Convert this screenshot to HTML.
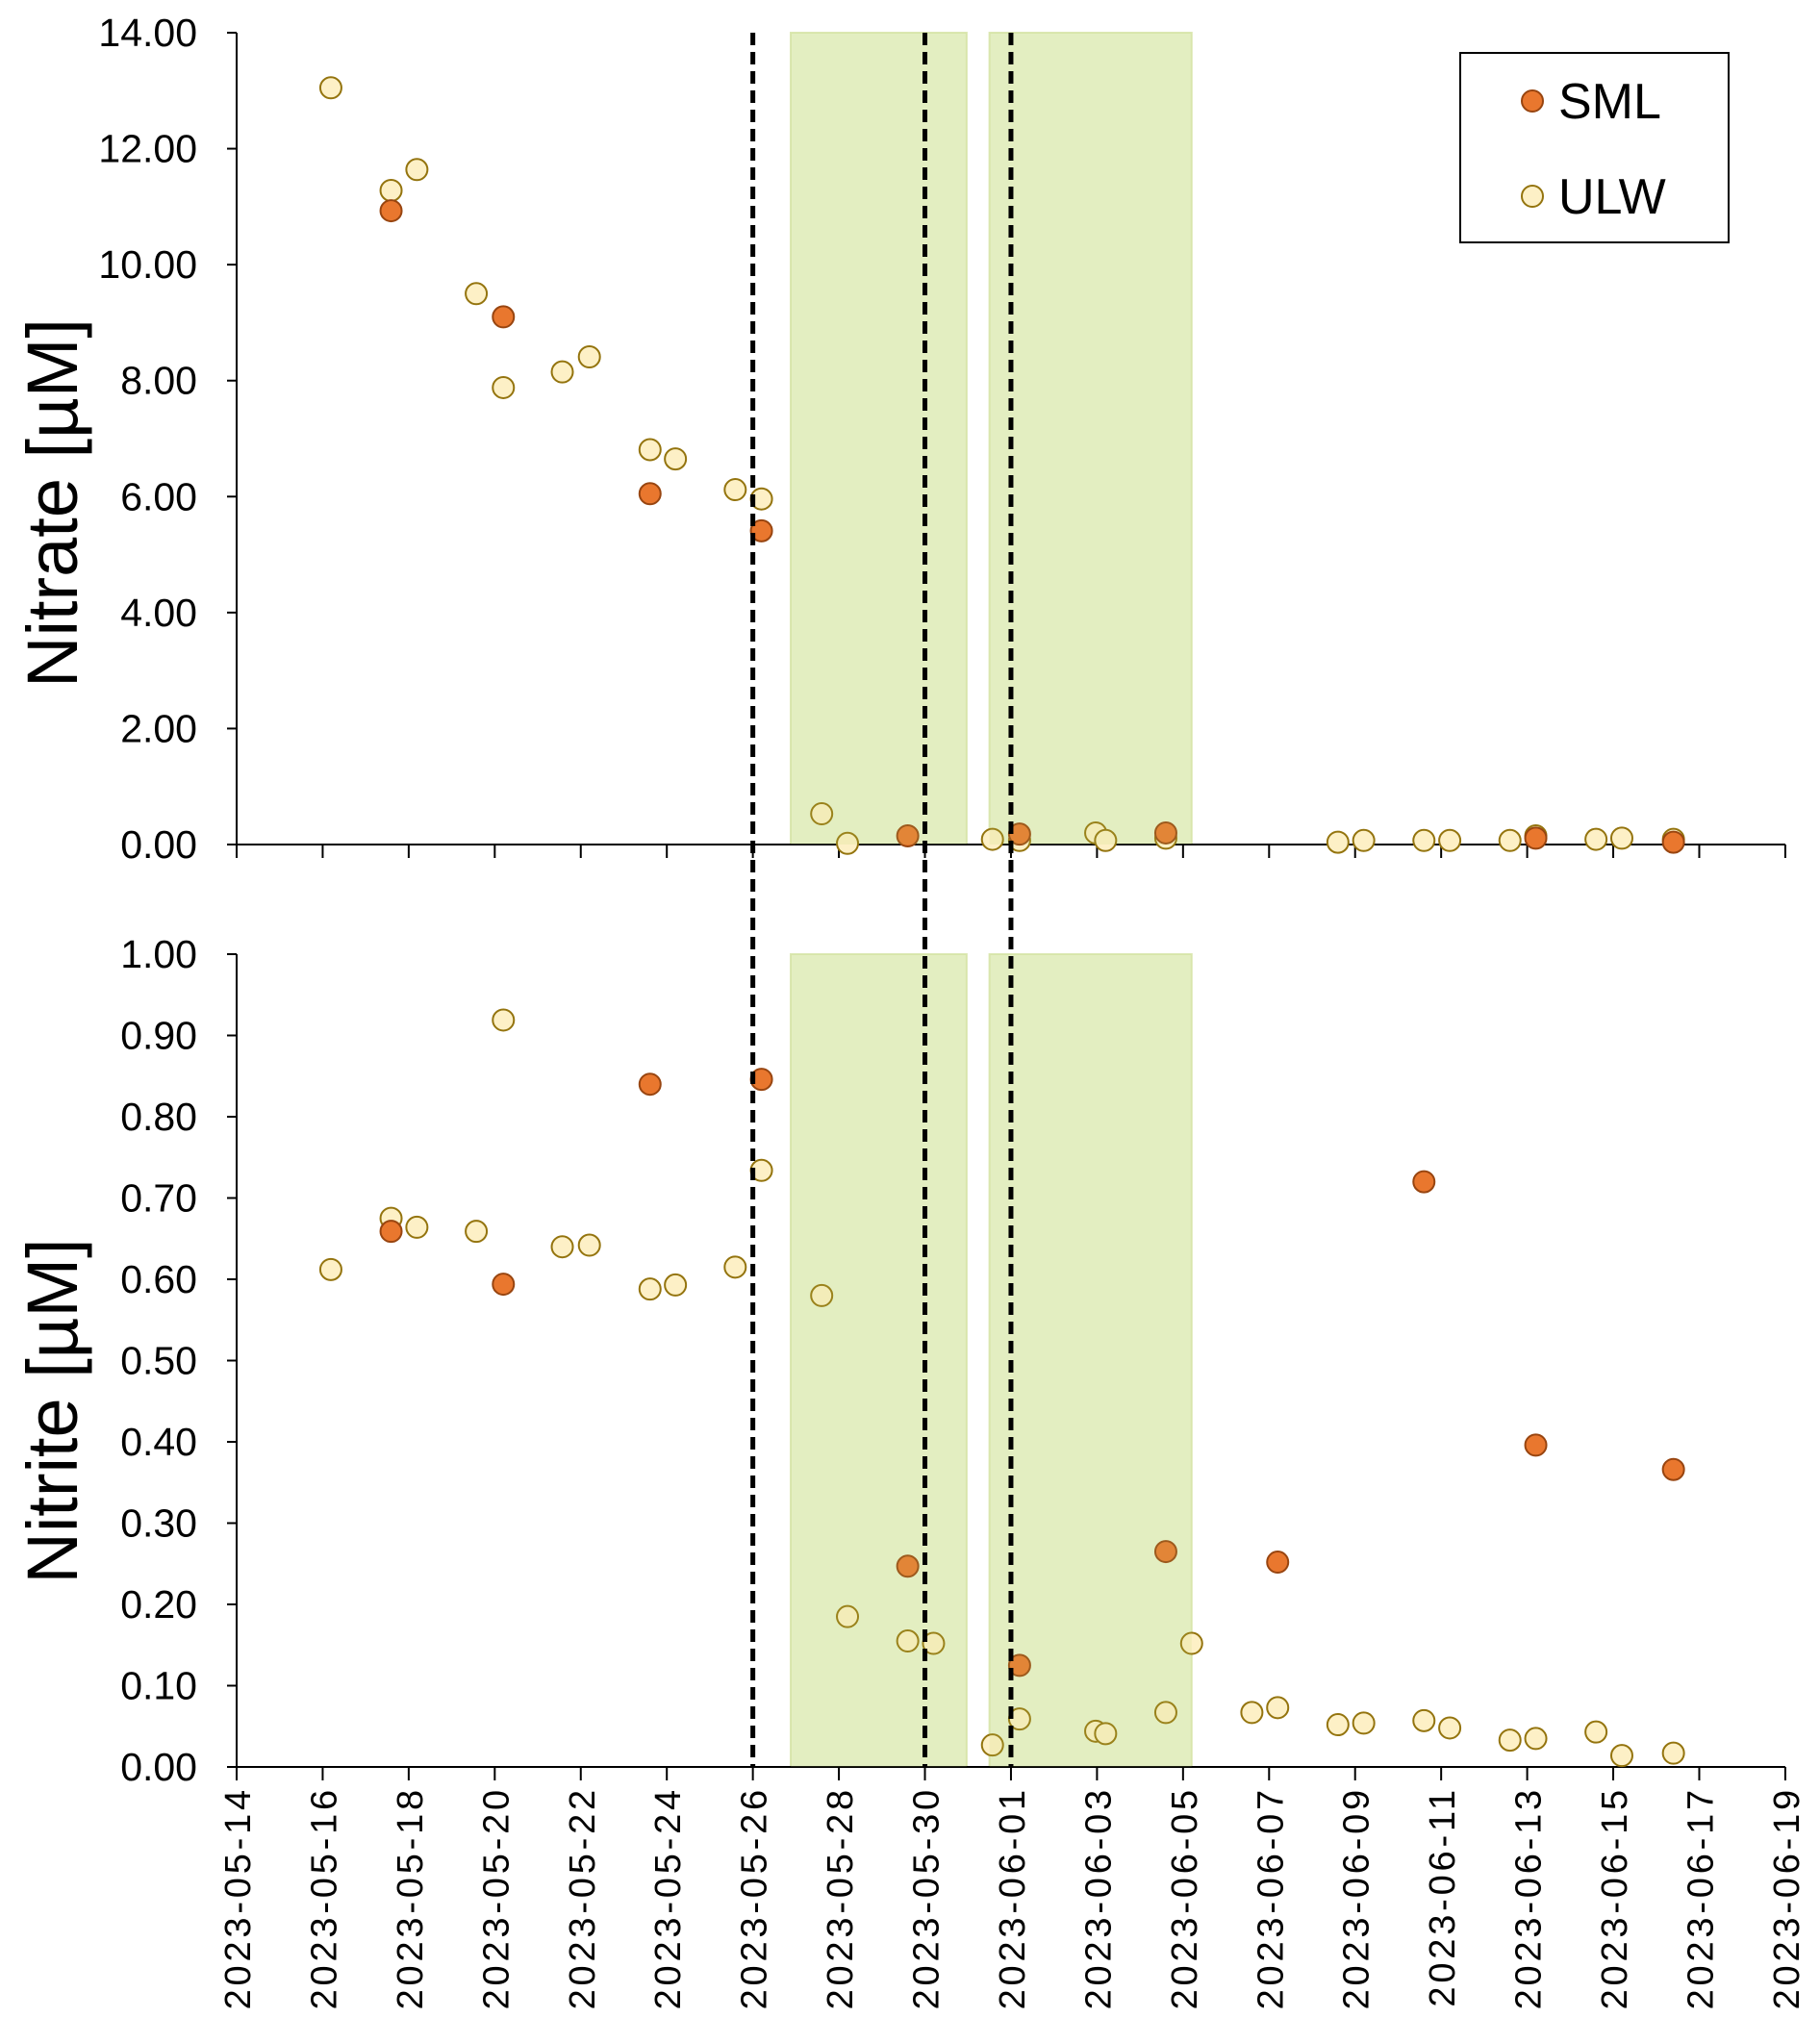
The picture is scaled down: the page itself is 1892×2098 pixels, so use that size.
<!DOCTYPE html>
<html><head><meta charset="utf-8"><style>
html,body{margin:0;padding:0;background:#fff}
svg{display:block;font-family:"Liberation Sans",Arial,sans-serif}
</style></head><body>
<svg id="chart" width="1892" height="2098" viewBox="0 0 1892 2098" xmlns="http://www.w3.org/2000/svg"></svg>
<script>
// x values: days since 2023-05-14
const nitrateUlwDays=[2.19,3.59,4.19,5.57,6.2,7.57,8.2,9.61,10.2,11.59,12.2,13.6,14.2,17.57,18.2,19.97,20.2,21.6,25.6,26.2,27.6,28.2,29.6,30.2,31.6,32.2,33.4];
const nitrateUlwVals=[13.05,11.28,11.64,9.50,7.88,8.15,8.41,6.81,6.65,6.12,5.96,0.53,0.02,0.09,0.07,0.20,0.07,0.11,0.04,0.07,0.07,0.07,0.07,0.15,0.09,0.11,0.09];
const nitrateSmlDays=[3.59,6.2,9.61,12.2,15.6,18.2,21.6,30.2,33.4];
const nitrateSmlVals=[10.93,9.10,6.05,5.41,0.15,0.18,0.20,0.11,0.04];
const nitriteUlwDays=[2.19,3.59,4.19,5.57,6.2,7.57,8.2,9.61,10.2,11.59,12.2,13.6,14.2,15.6,16.2,17.57,18.2,19.97,20.2,21.6,22.2,23.6,24.2,25.6,26.2,27.6,28.2,29.6,30.2,31.6,32.2,33.4];
const nitriteUlwVals=[0.612,0.675,0.664,0.659,0.919,0.640,0.642,0.588,0.593,0.615,0.734,0.580,0.185,0.155,0.152,0.027,0.059,0.044,0.041,0.067,0.152,0.067,0.073,0.052,0.054,0.057,0.048,0.033,0.035,0.043,0.014,0.017];
const nitriteSmlDays=[3.59,6.2,9.61,12.2,15.6,18.2,21.6,24.2,27.6,30.2,33.4];
const nitriteSmlVals=[0.659,0.594,0.840,0.846,0.247,0.125,0.265,0.252,0.720,0.396,0.366];
const nitrateTicks=[0,2,4,6,8,10,12,14];
const nitriteTicks=[0,0.1,0.2,0.3,0.4,0.5,0.6,0.7,0.8,0.9,1.0];
const dateTicks=["2023-05-14","2023-05-16","2023-05-18","2023-05-20","2023-05-22","2023-05-24","2023-05-26","2023-05-28","2023-05-30","2023-06-01","2023-06-03","2023-06-05","2023-06-07","2023-06-09","2023-06-11","2023-06-13","2023-06-15","2023-06-17","2023-06-19"];
const eventDays=[12,16,18];
const shadeRanges=[[12.88,16.97],[17.5,22.2]];

const NS="http://www.w3.org/2000/svg";
const svg=document.getElementById('chart');
function el(tag,attrs,parent){const e=document.createElementNS(NS,tag);for(const k in attrs)e.setAttribute(k,attrs[k]);(parent||svg).appendChild(e);return e;}
const X0=246,DAY=44.72;
const xs=d=>X0+d*DAY;
const XEND=xs(36);
const topY=v=>878-v*(878-34)/14;
const botY=v=>1837-v*(1837-992)/1;

shadeRanges.forEach(r=>{
  [[34,878],[992,1837]].forEach(p=>{
    const s=el('rect',{x:xs(r[0]),y:p[0],width:xs(r[1])-xs(r[0]),height:p[1]-p[0],fill:'rgb(234,242,208)',stroke:'rgb(220,232,180)','stroke-width':2});
    
    
  });
});

function axes(yf,ticks,fmt,bottom,name){
  const g=el('g',{});
  
  
  const top=yf(ticks[ticks.length-1]),base=yf(0);
  el('line',{x1:X0,y1:top,x2:X0,y2:base,stroke:'#000','stroke-width':2},g);
  el('line',{x1:X0,y1:base,x2:XEND,y2:base,stroke:'#000','stroke-width':2},g);
  ticks.forEach(t=>{
    const y=yf(t);
    el('line',{x1:X0-10,y1:y,x2:X0,y2:y,stroke:'#000','stroke-width':2},g);
    const tx=el('text',{x:205,y:y+14,'text-anchor':'end','font-size':41,fill:'#000'},g);
    tx.textContent=fmt(t);
    
    
  });
  dateTicks.forEach((d,i)=>{
    const x=xs(i*2);
    el('line',{x1:x,y1:base,x2:x,y2:base+14,stroke:'#000','stroke-width':2},g);
    if(bottom){
      const tx=el('text',{x:0,y:0,'text-anchor':'end','font-size':38,'letter-spacing':3.8,fill:'#000',transform:`translate(${x+14},${base+20}) rotate(-90)`},g);
      tx.textContent=d;
      
      
    }
  });
}
axes(topY,nitrateTicks,t=>t.toFixed(2),false,'nitrate-axes');
axes(botY,nitriteTicks,t=>t.toFixed(2),true,'nitrite-axes');

function dots(days,vals,yf,fill,stroke,name){
  days.forEach((d,i)=>{
    const c=el('circle',{cx:xs(d),cy:yf(vals[i]),r:11,fill:fill,stroke:stroke,'stroke-width':2});
    
    
  });
}
dots(nitrateUlwDays,nitrateUlwVals,topY,'#fdf0c6','#94740e','ulw-nitrate-point');
dots(nitrateSmlDays,nitrateSmlVals,topY,'#e9772e','#984510','sml-nitrate-point');
dots(nitriteUlwDays,nitriteUlwVals,botY,'#fdf0c6','#94740e','ulw-nitrite-point');
dots(nitriteSmlDays,nitriteSmlVals,botY,'#e9772e','#984510','sml-nitrite-point');

shadeRanges.forEach(r=>{
  [[34,878],[992,1837]].forEach(p=>{
    el('rect',{x:xs(r[0]),y:p[0],width:xs(r[1])-xs(r[0]),height:p[1]-p[0],fill:'rgba(190,215,110,0.15)'});
  });
});

eventDays.forEach(d=>{
  const l=el('line',{x1:xs(d),y1:34,x2:xs(d),y2:1837,stroke:'#000','stroke-width':5,'stroke-dasharray':'13,7'});
  
  
});

const t1=el('text',{x:0,y:0,'text-anchor':'middle','font-size':74,fill:'#000',transform:'translate(80,523) rotate(-90)'});
t1.textContent='Nitrate [µM]';


const t2=el('text',{x:0,y:0,'text-anchor':'middle','font-size':74,fill:'#000',transform:'translate(80,1467) rotate(-90)'});
t2.textContent='Nitrite [µM]';



const lg=el('g',{});


el('rect',{x:1518,y:55,width:279,height:197,fill:'#fff',stroke:'#000','stroke-width':2},lg);
el('circle',{cx:1593,cy:105,r:11,fill:'#e9772e',stroke:'#984510','stroke-width':2},lg);
const l1=el('text',{x:1620,y:123,'font-size':52,fill:'#000'},lg);
l1.textContent='SML';


el('circle',{cx:1593,cy:204,r:11,fill:'#fdf0c6',stroke:'#94740e','stroke-width':2},lg);
const l2=el('text',{x:1620,y:222,'font-size':52,fill:'#000'},lg);
l2.textContent='ULW';


</script>
</body></html>
